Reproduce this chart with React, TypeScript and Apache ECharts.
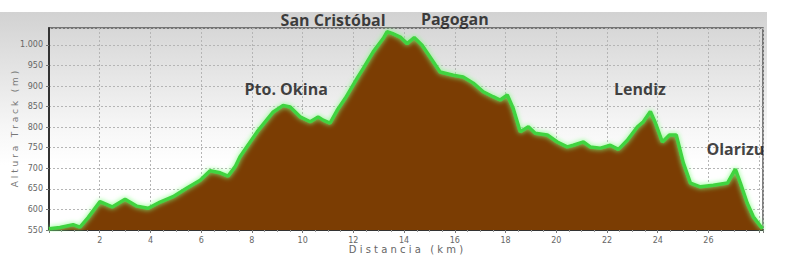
import React, { useEffect, useRef } from "react";
import * as echarts from "echarts";

// Distance along track (km)
const distanceKm = [
  0, 0.43, 0.95, 1.22, 1.54, 2.01, 2.49, 3.0, 3.47, 3.91, 4.38, 4.89, 5.44, 5.96,
  6.35, 6.75, 7.06, 7.34, 7.53, 8.21, 8.84, 9.23, 9.51, 9.9, 10.3, 10.61, 10.81,
  11.08, 11.36, 11.68, 12.15, 12.39, 12.78, 13.18, 13.33, 13.53, 13.85, 14.12,
  14.4, 14.71, 15.03, 15.42, 15.94, 16.33, 16.73, 17.12, 17.51, 17.79, 18.07,
  18.3, 18.58, 18.9, 19.17, 19.65, 20.04, 20.43, 20.67, 21.07, 21.34, 21.74,
  22.13, 22.45, 22.8, 23.2, 23.43, 23.71, 23.91, 24.18, 24.46, 24.73, 25.01,
  25.29, 25.68, 26.19, 26.75, 27.06, 27.26, 27.53, 27.77, 28.13,
];
// Altitude (m)
const altitudeM = [
  553, 556, 563, 557, 580, 619, 606, 625, 608, 603, 618, 631, 652, 671,
  694, 689, 681, 704, 728, 789, 837, 853, 849, 825, 813, 825, 817,
  810, 841, 870, 919, 943, 983, 1016, 1032, 1028, 1019, 1003,
  1018, 999, 970, 934, 926, 922, 907, 886, 874, 866, 878,
  846, 789, 801, 785, 781, 764, 752, 756, 764, 752, 749,
  756, 746, 768, 801, 813, 838, 810, 764, 781, 781, 713,
  664, 655, 659, 664, 698, 664, 615, 582, 553,
];

// Place names and label anchor positions (km, m)
const placeNames = ["San Cristóbal", "Pagogan", "Pto. Okina", "Lendiz", "Olarizu"];
const placeKm = [11.2, 16.0, 9.35, 23.3, 27.06];
const placeM = [1060, 1064, 892, 892, 747];

const xMin = 0;
const xMax = 28.15;
const xInterval = 2;
const yMin = 550;
const yMax = 1041;
const yInterval = 50;

export default function App() {
  const ref = useRef<HTMLDivElement>(null);

  useEffect(() => {
    if (!ref.current) return;
    const chart = echarts.init(ref.current, undefined, { renderer: "svg" });
    const profile = distanceKm.map((d, i) => [d, altitudeM[i]]);
    const places = placeNames.map((n, i) => ({ name: n, value: [placeKm[i], placeM[i]] }));

    chart.setOption({
      animation: false,
      backgroundColor: "#ffffff",
      graphic: {
        elements: [
          {
            type: "rect",
            z: -100,
            silent: true,
            shape: { x: 0, y: 12, width: 767, height: 255 },
            style: {
              fill: new echarts.graphic.LinearGradient(0, 0, 0, 1, [
                { offset: 0, color: "#d2d2d2" },
                { offset: 0.45, color: "#f6f6f6" },
                { offset: 0.6, color: "#ffffff" },
                { offset: 1, color: "#ffffff" },
              ]),
            },
          },
        ],
      },
      grid: {
        left: 49,
        right: 25,
        top: 28,
        bottom: 43,
        show: true,
        borderColor: "#555",
        borderWidth: 1.5,
        backgroundColor: "transparent",
        outerBoundsMode: "none",
        containLabel: false,
      },
      xAxis: {
        type: "value",
        min: xMin,
        max: xMax,
        interval: xInterval,
        name: "D i s t a n c i a   ( k m )",
        nameLocation: "middle",
        nameGap: 14,
        nameMoveOverlap: false,
        nameTextStyle: { color: "#666", fontSize: 10, fontFamily: "DejaVu Sans" },
        axisLine: { show: true, lineStyle: { color: "#333", width: 2 } },
        axisTick: { show: true, length: 3, lineStyle: { color: "#777" } },
        minorTick: { show: true, splitNumber: 4, length: 2, lineStyle: { color: "#999" } },
        axisLabel: {
          color: "#666",
          fontSize: 8,
          fontFamily: "DejaVu Sans",
          margin: 6,
          showMaxLabel: false,
          formatter: (v: number) => (v === 0 || v >= 28 ? "" : String(v)),
        },
        splitLine: { show: true, lineStyle: { color: "#b5b5b5", type: [2, 2], width: 1 } },
      },
      yAxis: {
        type: "value",
        min: yMin,
        max: yMax,
        interval: yInterval,
        name: "A l t u r a   T r a c k   ( m )",
        nameLocation: "middle",
        nameGap: 30,
        nameMoveOverlap: false,
        nameRotate: 90,
        nameTextStyle: { color: "#777", fontSize: 9, fontFamily: "DejaVu Sans" },
        axisLine: { show: true, lineStyle: { color: "#333", width: 2 } },
        axisTick: { show: true, length: 3, lineStyle: { color: "#777" } },
        axisLabel: {
          color: "#666",
          fontSize: 8,
          fontFamily: "DejaVu Sans",
          margin: 6,
          showMaxLabel: false,
          formatter: (v: number) => (v >= 1000 ? (v / 1000).toFixed(3) : String(v)),
        },
        splitLine: { show: true, lineStyle: { color: "#b5b5b5", type: [2, 2], width: 1 } },
      },
      series: [
        {
          type: "line",
          data: profile,
          symbol: "none",
          smooth: false,
          lineStyle: {
            color: "#3fd43f",
            width: 3.5,
            shadowColor: "#7dff7d",
            shadowBlur: 5,
          },
          areaStyle: { color: "#7b3d03", opacity: 1 },
          z: 2,
        },
        {
          type: "scatter",
          data: places,
          symbolSize: 0,
          clip: false,
          silent: true,
          z: 5,
          label: {
            show: true,
            position: "inside",
            formatter: "{b}",
            color: "#111",
            fontSize: 16,
            fontWeight: "bold",
            fontFamily: "Open Sans",
          },
        },
      ],
    });
    return () => chart.dispose();
  }, []);

  return (
    <div
      ref={ref}
      style={{ position: "fixed", left: 0, top: 0, width: 788, height: 273 }}
    />
  );
}
